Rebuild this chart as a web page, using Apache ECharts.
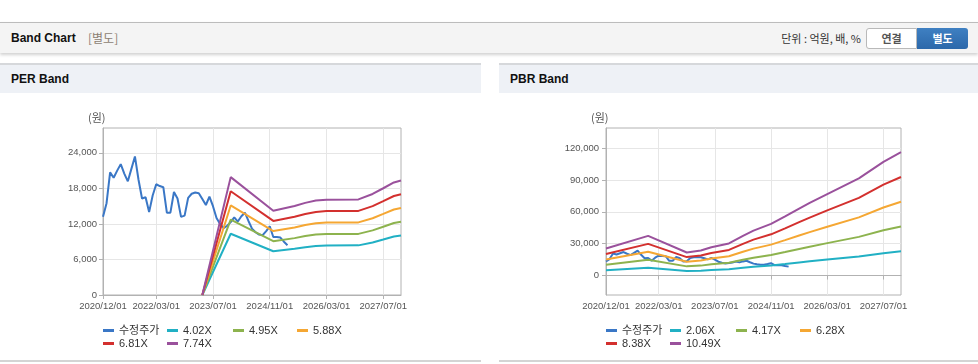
<!DOCTYPE html>
<html>
<head>
<meta charset="utf-8">
<script src="https://cdn.jsdelivr.net/npm/echarts@6/dist/echarts.min.js"></script>
<style>
  body { margin: 0; width: 978px; height: 364px; overflow: hidden; background: #fff; position: relative;
         font-family: "Liberation Sans", "Noto Sans CJK KR", sans-serif; }
  .top { position: absolute; left: 0; top: 22px; width: 978px; height: 30px; background: #f4f4f4;
         border-top: 1px solid #bcbcbc; box-shadow: 0 2px 3px rgba(0,0,0,0.18); }
  .top .title { position: absolute; left: 11px; top: 8px; font-size: 12px; font-weight: bold; color: #111; }
  .top .sub { position: absolute; left: 88px; top: 8px; font-size: 12px; color: #8c7f73; font-family: "Noto Sans CJK KR", sans-serif; line-height: 14px; }
  .top .unit { position: absolute; right: 117px; top: 9px; font-size: 11px; color: #333; font-family: "Noto Sans CJK KR", sans-serif; line-height: 13px; }
  .btn { position: absolute; top: 5px; height: 19px; width: 49px; text-align: center; line-height: 19px; font-size: 11px;
         font-weight: bold; font-family: "Noto Sans CJK KR", sans-serif; }
  .btn.a { left: 866px; background: #fff; color: #555; border: 1px solid #b9b9b9; border-radius: 3px 0 0 3px; }
  .btn.b { left: 917px; width: 51px; height: 21px; line-height: 21px; background: linear-gradient(#3f80c2, #2c68aa); color: #fff; border-radius: 0 3px 3px 0; }
  .panel { position: absolute; top: 63px; height: 297px; background: #fff; border-bottom: 2px solid #d4d4d4; }
  .panel .hd { height: 28px; background: #eef1f6; border-top: 2px solid #d6d8db; }
  .panel .hd span { position: absolute; left: 11px; top: 9px; font-size: 12px; font-weight: bold; color: #111; }
  .chart { position: absolute; left: 0; top: 30px; height: 268px; }
</style>
</head>
<body>
<div class="top">
  <span class="title">Band Chart</span>
  <span class="sub">[별도]</span>
  <span class="unit">단위 : 억원, 배, %</span>
  <div class="btn a">연결</div>
  <div class="btn b">별도</div>
</div>
<div class="panel" style="left:0;width:481px">
  <div class="hd"><span>PER Band</span></div>
  <div id="per" class="chart" style="width:481px"></div>
</div>
<div class="panel" style="left:499px;width:479px">
  <div class="hd"><span>PBR Band</span></div>
  <div id="pbr" class="chart" style="width:479px"></div>
</div>
<script>
// monthly axis 2020/12 .. 2027/12
const months = [];
for (let y = 2020, m = 12; y * 100 + m <= 202712; m++) {
  if (m > 12) { m = 1; y++; }
  months.push(y + '/' + String(m).padStart(2, '0') + '/01');
}
const xTicks = ['2020/12/01', '2022/03/01', '2023/07/01', '2024/11/01', '2026/03/01', '2027/07/01'];

// 수정주가, monthly from 2020/12
const price = [13200, 15500, 20700, 19800, 21000, 22100, 20500, 19200, 21300, 23400,
  19500, 16300, 16500, 14000, 16800, 18700, 18400, 18200, 13900, 13900,
  17400, 16300, 13200, 13400, 16400, 17100, 17300, 17200, 16200, 15200,
  16600, 15000, 13000, 12000, 11300, 11700, 12300, 13100, 12400, 13300,
  13900, 12500, 11200, 10600, 10200, 10100, 10800, 11600, 9800, 9800,
  9700, 9000, 8400];

// PER band: EPS per share (1.0x line) at breakpoints
const perMonths = ['2023/04/01', '2023/12/01', '2024/12/01', '2025/06/01', '2025/09/01', '2025/12/01',
  '2026/03/01', '2026/12/01', '2027/04/01', '2027/07/01', '2027/10/01', '2027/12/01'];
const perEps = [0, 2572, 1837, 1940, 2010, 2060, 2080, 2085, 2204, 2329, 2455, 2499];
const perNames = ['4.02X', '4.95X', '5.88X', '6.81X', '7.74X'];
const perMult = [4.02, 4.95, 5.88, 6.81, 7.74];

// PBR band: BPS per share (1.0x line) at breakpoints
const pbrMonths = ['2020/12/01', '2021/12/01', '2022/11/01', '2023/03/01', '2023/06/01', '2023/11/01',
  '2024/03/01', '2024/06/01', '2024/11/01', '2025/03/01', '2025/07/01', '2025/10/01',
  '2026/03/01', '2026/12/01', '2027/07/01', '2027/12/01'];
const pbrBps = [2420, 3555, 2070, 2240, 2540, 2880, 3560, 4030, 4630, 5300, 6000, 6510, 7310, 8720, 10200, 11060];
const pbrNames = ['2.06X', '4.17X', '6.28X', '8.38X', '10.49X'];
const pbrMult = [2.06, 4.17, 6.28, 8.38, 10.49];

const perTicks = [0, 6000, 12000, 18000, 24000];
const pbrTicks = [0, 30000, 60000, 90000, 120000];

const colors = ['#3a77c6', '#21b0c4', '#8db34e', '#f5a733', '#d3302e', '#9a519c'];

const tickIdx = xTicks.map(t => months.indexOf(t));
const showAt = i => tickIdx.includes(i);
const fmt = v => Math.round(v).toLocaleString('en-US');
const lblFont = { fontFamily: 'Liberation Sans', fontSize: 9.5, color: '#555' };
const legCols = [107, 171, 237, 301];

function build(el, gridLeft, yMin, yMax, yTicks, bandMonths, bandBase, names, mult, yMargin) {
  const chart = echarts.init(document.getElementById(el), null, { renderer: 'canvas' });
  const all = ['수정주가'].concat(names);
  const series = [{
    name: '수정주가', type: 'line', data: price, symbol: 'none', z: 2,
    lineStyle: { width: 2, color: colors[0] }, itemStyle: { color: colors[0] }
  }];
  names.forEach((n, k) => {
    series.push({
      name: n, type: 'line', symbol: 'none', z: 3,
      data: bandMonths.map((d, j) => [d, Math.round(bandBase[j] * mult[k])]),
      lineStyle: { width: 2, color: colors[k + 1] }, itemStyle: { color: colors[k + 1] }
    });
  });
  const legends = all.map((n, k) => ({
    data: [n], icon: 'rect', itemWidth: 11, itemHeight: 3, padding: 0, itemGap: 0,
    left: gridLeft + legCols[k % 4] - 107, top: k < 4 ? 232 : 245,
    textStyle: { fontSize: 11, color: '#333', fontFamily: 'Liberation Sans, Noto Sans CJK KR' }
  }));
  chart.setOption({
    animation: false,
    color: colors,
    grid: { left: gridLeft, top: 35, width: el === 'per' ? 298 : 295, height: 167,
            show: true, borderColor: '#b2b2b2', borderWidth: 1 },
    legend: legends,
    graphic: [{ type: 'text', left: gridLeft - 15, top: 19,
      style: { text: '(원)', fontSize: 11, fill: '#555', fontFamily: 'Noto Sans CJK KR' } }],
    xAxis: {
      type: 'category', data: months, boundaryGap: false,
      axisLine: { lineStyle: { color: '#b2b2b2' } },
      axisTick: { interval: (i) => showAt(i), length: 4, lineStyle: { color: '#b2b2b2' } },
      axisLabel: Object.assign({ interval: (i) => showAt(i), margin: 6 }, lblFont),
      splitLine: { show: true, interval: (i) => showAt(i), lineStyle: { color: '#e6e6e6' } }
    },
    yAxis: {
      type: 'value', min: yMin, max: yMax,
      axisLine: { show: true, lineStyle: { color: '#b2b2b2' } },
      axisTick: { show: true, length: 4, customValues: yTicks, lineStyle: { color: '#b2b2b2' } },
      axisLabel: Object.assign({ customValues: yTicks, formatter: fmt, margin: yMargin }, lblFont),
      splitLine: { show: true, lineStyle: { color: '#e6e6e6' } }
    },
    series: series
  });
}

build('per', 103, 0, 28200, perTicks, perMonths, perEps, perNames, perMult, 6);
build('pbr', 107, -18300, 138800, pbrTicks, pbrMonths, pbrBps, pbrNames, pbrMult, 7);
</script>
</body>
</html>
